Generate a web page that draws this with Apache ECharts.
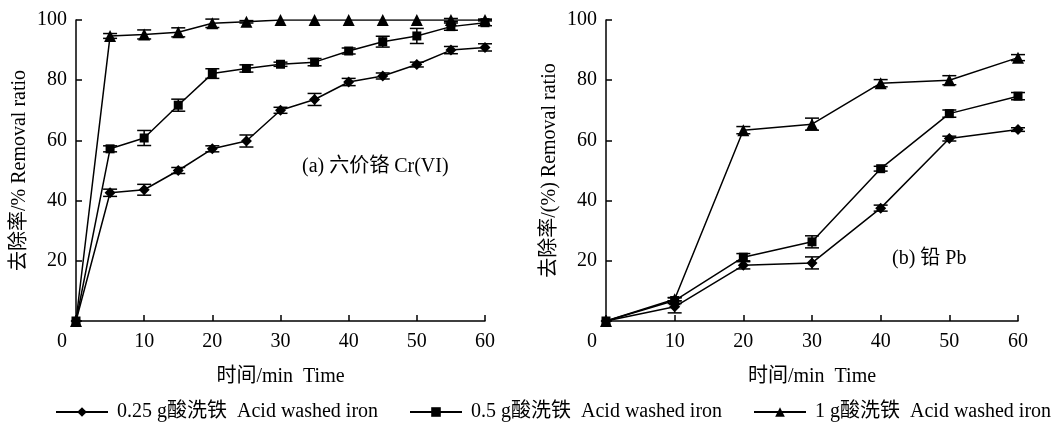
<!DOCTYPE html>
<html lang="zh">
  <head>
    <meta charset="UTF-8" />
    <script src="https://cdn.jsdelivr.net/npm/echarts@6/dist/echarts.min.js"></script>
    <style>
      html, body { margin: 0; padding: 0; background: #fff; }
      #main { width: 1055px; height: 424px; }
    </style>
    <title>Removal ratio</title>
  </head>
  <body>
    <div id="main"></div>
    <script>
      const seriesNames = [
        "0.25 g酸洗铁  Acid washed iron",
        "0.5 g酸洗铁  Acid washed iron",
        "1 g酸洗铁  Acid washed iron",
      ];

      // (a) Cr(VI)
      const timeA = [0, 5, 10, 15, 20, 25, 30, 35, 40, 45, 50, 55, 60];
      const crLow = [0, 42.6, 43.6, 50, 57.2, 59.8, 70, 73.6, 79.4, 81.4, 85.2, 90, 90.9];
      const crLowErr = [0, 1.2, 1.8, 1, 1, 2, 1, 2, 1.2, 1, 0.8, 1.2, 1.2];
      const crMid = [0, 57.2, 60.8, 71.7, 82.2, 83.9, 85.3, 86, 89.7, 92.8, 94.7, 97.8, 99.1];
      const crMidErr = [0, 1, 2.5, 2, 1.6, 1.2, 0.7, 1.2, 1, 1.8, 2.5, 1.2, 1];
      const crHigh = [0, 94.7, 95.2, 95.9, 98.9, 99.4, 100, 100, 100, 100, 100, 100, 100];
      const crHighErr = [0, 0.8, 1.5, 1.5, 1.4, 0.4, 0, 0, 0, 0, 0, 0.5, 0.3];

      // (b) Pb
      const timeB = [0, 10, 20, 30, 40, 50, 60];
      const pbLow = [0, 4.7, 18.5, 19.3, 37.5, 60.6, 63.6];
      const pbLowErr = [0, 2, 1.2, 2, 1, 0.8, 0.6];
      const pbMid = [0, 6.8, 21.2, 26.3, 50.6, 68.9, 74.7];
      const pbMidErr = [0, 1, 1.2, 2, 0.8, 1.2, 1.2];
      const pbHigh = [0, 7.2, 63.4, 65.4, 79, 80, 87.5];
      const pbHighErr = [0, 0.5, 1.2, 2, 1.2, 1.5, 1];

      const xTicks = [0, 10, 20, 30, 40, 50, 60];
      const yTicks = [20, 40, 60, 80, 100];

      const FONT = "'Liberation Serif', 'Noto Sans CJK SC', serif";
      const FS = 20;
      const symbols = ["diamond", "rect", "triangle"];
      const symbolSizes = [11, 9, 12];

      const pairs = (xs, ys) => xs.map((x, i) => [x, ys[i]]);
      const errPairs = (xs, ys, es) =>
        xs.map((x, i) => [x, ys[i] - es[i], ys[i] + es[i], es[i]]).filter((d) => d[3] > 0);

      function errRender(params, api) {
        const x = api.value(0);
        const p1 = api.coord([x, api.value(1)]);
        const p2 = api.coord([x, api.value(2)]);
        const w = 7;
        const st = { stroke: "#000", lineWidth: 1.5 };
        return {
          type: "group",
          children: [
            { type: "line", shape: { x1: p1[0], y1: p1[1], x2: p2[0], y2: p2[1] }, style: st },
            { type: "line", shape: { x1: p1[0] - w, y1: p1[1], x2: p1[0] + w, y2: p1[1] }, style: st },
            { type: "line", shape: { x1: p2[0] - w, y1: p2[1], x2: p2[0] + w, y2: p2[1] }, style: st },
          ],
        };
      }

      function xAxis(gridIndex) {
        return {
          type: "value",
          gridIndex: gridIndex,
          min: 0,
          max: 60,
          interval: 10,
          name: "时间/min  Time",
          nameLocation: "middle",
          nameGap: 46,
          nameTextStyle: { fontFamily: FONT, fontSize: FS, color: "#000" },
          axisLine: { show: true, onZero: false, lineStyle: { color: "#000", width: 1.5 } },
          axisTick: { show: true, inside: true, length: 6, lineStyle: { color: "#000", width: 1.5 } },
          axisLabel: {
            margin: 11,
            fontFamily: FONT,
            fontSize: FS,
            color: "#000",
            formatter: (v) => (v === 0 ? "{z|0}" : String(v)),
            rich: { z: { fontFamily: FONT, fontSize: FS, color: "#000", padding: [0, 28, 0, 0] } },
          },
          splitLine: { show: false },
        };
      }

      function yAxis(gridIndex, name) {
        return {
          type: "value",
          gridIndex: gridIndex,
          min: 0,
          max: 100,
          interval: 20,
          name: name,
          nameLocation: "middle",
          nameGap: 46,
          nameTextStyle: { fontFamily: FONT, fontSize: FS, color: "#000" },
          axisLine: { show: true, onZero: false, lineStyle: { color: "#000", width: 1.5 } },
          axisTick: { show: true, inside: true, length: 6, lineStyle: { color: "#000", width: 1.5 } },
          axisLabel: {
            margin: 9,
            fontFamily: FONT,
            fontSize: FS,
            color: "#000",
            formatter: (v) => (yTicks.indexOf(v) >= 0 ? String(v) : ""),
          },
          splitLine: { show: false },
        };
      }

      const panels = [
        { t: timeA, vals: [crLow, crMid, crHigh], errs: [crLowErr, crMidErr, crHighErr] },
        { t: timeB, vals: [pbLow, pbMid, pbHigh], errs: [pbLowErr, pbMidErr, pbHighErr] },
      ];

      const series = [];
      panels.forEach((p, gi) => {
        p.vals.forEach((vals, si) => {
          series.push({
            type: "custom",
            xAxisIndex: gi,
            yAxisIndex: gi,
            renderItem: errRender,
            encode: { x: 0, y: [1, 2] },
            data: errPairs(p.t, vals, p.errs[si]),
            silent: true,
            z: 3,
          });
        });
        p.vals.forEach((vals, si) => {
          series.push({
            name: seriesNames[si],
            type: "line",
            xAxisIndex: gi,
            yAxisIndex: gi,
            data: pairs(p.t, vals),
            symbol: symbols[si],
            symbolSize: symbolSizes[si],
            showAllSymbol: true,
            itemStyle: { color: "#000" },
            lineStyle: { color: "#000", width: 1.5 },
            animation: false,
            z: 4,
          });
        });
      });

      const legendLefts = [55, 409, 753];
      const legends = seriesNames.map((n, i) => ({
        data: [n],
        left: legendLefts[i],
        top: 402,
        padding: 0,
        itemWidth: 52,
        itemHeight: 12,
        itemGap: 0,
        textStyle: { fontFamily: FONT, fontSize: FS, color: "#000", padding: [0, 0, 0, 4] },
      }));

      const myChart = echarts.init(document.getElementById("main"));
      myChart.setOption({
        animation: false,
        backgroundColor: "#fff",
        grid: [
          { left: 76, top: 20, width: 409, height: 301 },
          { left: 606, top: 20, width: 412, height: 301 },
        ],
        xAxis: [xAxis(0), xAxis(1)],
        yAxis: [yAxis(0, "去除率/% Removal ratio"), yAxis(1, "去除率/(%) Removal ratio")],
        legend: legends,
        graphic: [
          {
            type: "text",
            left: 302,
            top: 157,
            style: { text: "(a) 六价铬 Cr(VI)", font: FS + "px " + FONT, fill: "#000" },
          },
          {
            type: "text",
            left: 892,
            top: 249,
            style: { text: "(b) 铅 Pb", font: FS + "px " + FONT, fill: "#000" },
          },
        ],
        series: series,
      });
    </script>
  </body>
</html>
